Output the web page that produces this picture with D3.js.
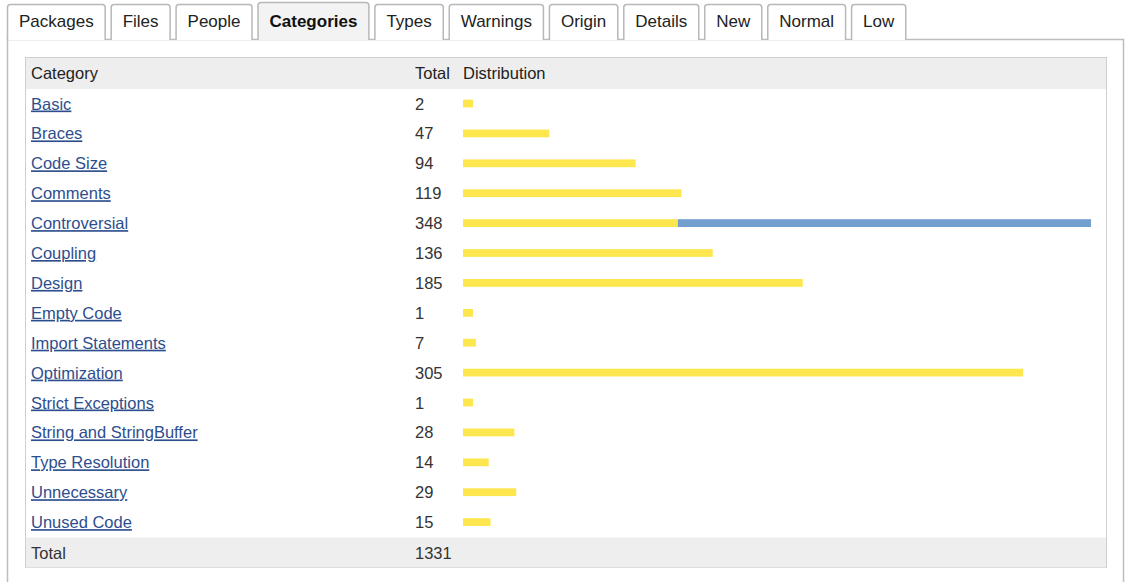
<!DOCTYPE html>
<html>
<head>
<meta charset="utf-8">
<script src="https://cdn.jsdelivr.net/npm/d3@7"></script>
<style>
  body { margin: 0; background: #fff; }
  svg { display: block; font-family: "Liberation Sans", Arial, sans-serif; }
  a text { fill: #2d4e8e; text-decoration: underline; }
</style>
</head>
<body>
<div id="chart"></div>
<script>
// tabs across the top
const tabs = ["Packages", "Files", "People", "Categories", "Types", "Warnings", "Origin", "Details", "New", "Normal", "Low"];
const activeTab = "Categories";

// table data
const categories = ["Basic", "Braces", "Code Size", "Comments", "Controversial", "Coupling", "Design",
  "Empty Code", "Import Statements", "Optimization", "Strict Exceptions", "String and StringBuffer",
  "Type Resolution", "Unnecessary", "Unused Code"];
const totals = [2, 47, 94, 119, 348, 136, 185, 1, 7, 305, 1, 28, 14, 29, 15];
// distribution split: yellow part and blue part
const normalPart = [2, 47, 94, 119, 117, 136, 185, 1, 7, 305, 1, 28, 14, 29, 15];
const lowPart = [0, 0, 0, 0, 231, 0, 0, 0, 0, 0, 0, 0, 0, 0, 0];
const grandTotal = 1331;

const width = 1126, height = 582;
const fontSize = 16.5;

const svg = d3.select("#chart").append("svg")
  .attr("width", width)
  .attr("height", height);

// content panel
svg.append("rect")
  .attr("x", 7.5).attr("y", 39.5)
  .attr("width", 1116).attr("height", 600)
  .attr("fill", "#fff")
  .attr("stroke", "#bdbdbd")
  .attr("stroke-width", 1.5);

// tabs: width from text + padding
const tabG = svg.append("g");
let tx = 7;
tabs.forEach(function(t) {
  const active = t === activeTab;
  const g = tabG.append("g");
  const label = g.append("text")
    .attr("y", 27)
    .attr("font-size", 17)
    .attr("font-weight", active ? "bold" : "normal")
    .attr("fill", active ? "#111" : "#222")
    .text(t);
  const w = label.node().getComputedTextLength() + 24;
  const top = active ? 2.5 : 4.5;
  g.insert("path", "text")
    .attr("d", `M${tx + 0.5},40 V${top + 3} Q${tx + 0.5},${top} ${tx + 3.5},${top} H${tx + w - 3.5} Q${tx + w - 0.5},${top} ${tx + w - 0.5},${top + 3} V40`)
    .attr("fill", active ? "#f3f3f3" : "#fff")
    .attr("stroke", "#b8b8b8")
    .attr("stroke-width", 1.5);
  label.attr("x", tx + w / 2).attr("text-anchor", "middle");
  tx += w + 5;
});

// table
const tableLeft = 25, tableRight = 1107;
const headerTop = 57, headerH = 32, rowH = 29.9;
const colCat = 31, colTotal = 415, colDist = 463;

const y = d3.scaleBand()
  .domain(categories)
  .range([headerTop + headerH, headerTop + headerH + rowH * categories.length]);

// distribution column is 628px wide, bars clamp to it
const x = d3.scaleLinear()
  .domain([0, 342])
  .range([colDist, 1091])
  .clamp(true);

const totalTop = y.range()[1];
const tableBottom = totalTop + 30.5;

svg.append("rect")
  .attr("x", tableLeft + 0.5).attr("y", headerTop + 0.5)
  .attr("width", tableRight - tableLeft - 1).attr("height", tableBottom - headerTop - 1)
  .attr("fill", "#fff")
  .attr("stroke", "#cfcfcf");

// header row
svg.append("rect")
  .attr("x", tableLeft + 1).attr("y", headerTop + 1)
  .attr("width", tableRight - tableLeft - 2).attr("height", headerH - 1)
  .attr("fill", "#eeeeee");

const header = svg.append("g")
  .attr("font-size", fontSize)
  .attr("fill", "#222");
[["Category", colCat], ["Total", colTotal], ["Distribution", colDist]].forEach(function(h) {
  header.append("text")
    .attr("x", h[1])
    .attr("y", headerTop + 22)
    .text(h[0]);
});

// rows
const rows = svg.selectAll("g.row")
  .data(categories.map(function(c, i) {
    return { cat: c, total: totals[i], normal: normalPart[i], low: lowPart[i] };
  }))
  .join("g")
  .attr("class", "row")
  .attr("transform", d => `translate(0, ${y(d.cat)})`);

rows.append("a")
  .attr("href", "#")
  .append("text")
  .attr("x", colCat)
  .attr("y", 20.5)
  .attr("font-size", fontSize)
  .text(d => d.cat);

rows.append("text")
  .attr("x", colTotal)
  .attr("y", 20.5)
  .attr("font-size", fontSize)
  .attr("fill", "#333")
  .text(d => d.total);

const barH = 7.8, barY = 10.6;
rows.append("rect")
  .attr("x", x(0))
  .attr("y", barY)
  .attr("width", d => Math.max(10, x(d.normal) - x(0)))
  .attr("height", barH)
  .attr("fill", "#fee74e");

rows.filter(d => d.low > 0)
  .append("rect")
  .attr("x", d => x(d.normal))
  .attr("y", barY)
  .attr("width", d => x(d.normal + d.low) - x(d.normal))
  .attr("height", barH)
  .attr("fill", "#739fcf");

// total row
svg.append("rect")
  .attr("x", tableLeft + 1).attr("y", totalTop)
  .attr("width", tableRight - tableLeft - 2).attr("height", tableBottom - totalTop - 0.5)
  .attr("fill", "#eeeeee");

svg.append("text")
  .attr("x", colCat).attr("y", totalTop + 21.5)
  .attr("font-size", fontSize).attr("fill", "#333")
  .text("Total");
svg.append("text")
  .attr("x", colTotal).attr("y", totalTop + 21.5)
  .attr("font-size", fontSize).attr("fill", "#333")
  .text(grandTotal);
</script>
</body>
</html>
